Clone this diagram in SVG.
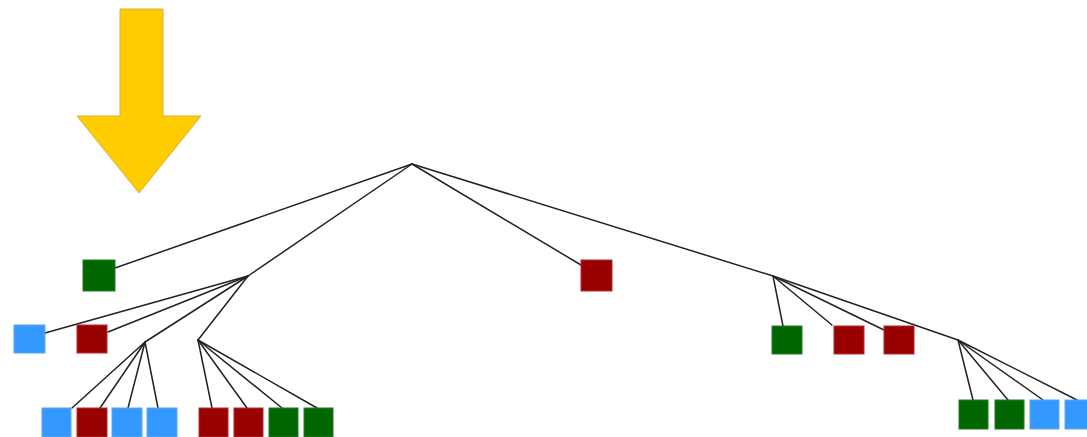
<svg xmlns="http://www.w3.org/2000/svg" width="1087" height="437" viewBox="0 0 1087 437">
<style>
.bg{fill:#ffffff}
.arrow{fill:#FFCC00;stroke:#D9AE3A;stroke-width:1}
.e{stroke:#222222;stroke-width:1.5;fill:none;stroke-linecap:round}
.b{fill:#3399FF;stroke:#5AA8F0;stroke-width:1}
.r{fill:#990000;stroke:#B03030;stroke-width:1}
.g{fill:#006600;stroke:#2A7A2A;stroke-width:1}
</style>
<rect class="bg" x="0" y="0" width="1087" height="437"/>
<g id="arrow">
<polygon class="arrow" points="120,9 163,9 163,116 201,116 139,193 77,116 120,116"/>
</g>
<g id="connectors">
<line class="e" x1="412" y1="164" x2="115" y2="268"/>
<line class="e" x1="412" y1="164" x2="248" y2="276"/>
<line class="e" x1="412" y1="164" x2="581" y2="265"/>
<line class="e" x1="412" y1="164" x2="773" y2="276"/>
<line class="e" x1="773" y1="276" x2="958" y2="340"/>
<line class="e" x1="248" y1="276" x2="45" y2="333"/>
<line class="e" x1="248" y1="276" x2="108" y2="332"/>
<line class="e" x1="248" y1="276" x2="145" y2="342"/>
<line class="e" x1="248" y1="276" x2="198" y2="340"/>
<line class="e" x1="145" y1="342" x2="72" y2="408"/>
<line class="e" x1="145" y1="342" x2="100" y2="408"/>
<line class="e" x1="145" y1="342" x2="128" y2="408"/>
<line class="e" x1="145" y1="342" x2="158" y2="408"/>
<line class="e" x1="198" y1="340" x2="212" y2="408"/>
<line class="e" x1="198" y1="340" x2="247" y2="408"/>
<line class="e" x1="198" y1="340" x2="282" y2="408"/>
<line class="e" x1="198" y1="340" x2="317" y2="408"/>
<line class="e" x1="773" y1="276" x2="783" y2="326"/>
<line class="e" x1="773" y1="276" x2="832" y2="325"/>
<line class="e" x1="773" y1="276" x2="884" y2="330"/>
<line class="e" x1="958" y1="340" x2="973" y2="400"/>
<line class="e" x1="958" y1="340" x2="1008" y2="400"/>
<line class="e" x1="958" y1="340" x2="1043" y2="400"/>
<line class="e" x1="958" y1="340" x2="1077" y2="400"/>
</g>
<g id="n1"><rect class="g" x="83" y="260" width="32" height="31"/></g>
<g id="n2"><rect class="r" x="581" y="260" width="31" height="31"/></g>
<g id="n3"><rect class="b" x="14" y="325" width="31" height="28"/></g>
<g id="n4"><rect class="r" x="77" y="325" width="30" height="28"/></g>
<g id="n5"><rect class="b" x="42" y="408" width="29" height="29"/></g>
<g id="n6"><rect class="r" x="77" y="408" width="30" height="29"/></g>
<g id="n7"><rect class="b" x="112" y="408" width="30" height="29"/></g>
<g id="n8"><rect class="b" x="147" y="408" width="30" height="29"/></g>
<g id="n9"><rect class="r" x="199" y="408" width="29" height="29"/></g>
<g id="n10"><rect class="r" x="234" y="408" width="29" height="29"/></g>
<g id="n11"><rect class="g" x="269" y="408" width="29" height="29"/></g>
<g id="n12"><rect class="g" x="304" y="408" width="29" height="29"/></g>
<g id="n13"><rect class="g" x="772" y="326" width="30" height="28"/></g>
<g id="n14"><rect class="r" x="834" y="326" width="30" height="28"/></g>
<g id="n15"><rect class="r" x="884" y="326" width="30" height="28"/></g>
<g id="n16"><rect class="g" x="959" y="400" width="29" height="29"/></g>
<g id="n17"><rect class="g" x="995" y="400" width="29" height="29"/></g>
<g id="n18"><rect class="b" x="1030" y="400" width="29" height="29"/></g>
<g id="n19"><rect class="b" x="1065" y="400" width="29" height="29"/></g>
</svg>
